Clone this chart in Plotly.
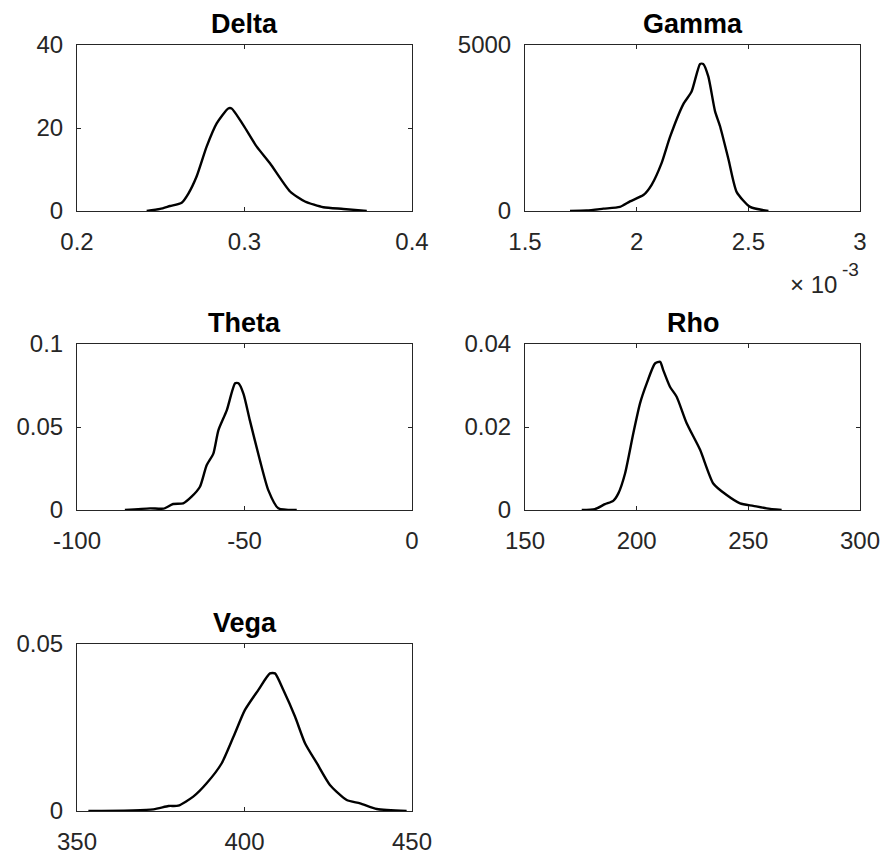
import plotly.graph_objects as go

# ---- data ----
delta_x = [0.2416, 0.2496, 0.2555, 0.2625, 0.2665, 0.2714, 0.2774, 0.2834, 0.2903, 0.2923,
           0.2993, 0.3073, 0.3152, 0.3272, 0.3361, 0.3471, 0.3590, 0.3730]
delta_y = [0.0, 0.5, 1.2, 2.0, 4.2, 8.3, 15.5, 21.1, 24.7, 24.7,
           20.7, 15.5, 11.5, 4.7, 2.3, 0.9, 0.5, 0.0]

gamma_x = [0.0017015, 0.001776, 0.001851, 0.001925, 0.001970, 0.002030, 0.002067, 0.002112,
           0.002149, 0.002209, 0.002246, 0.002284, 0.002298, 0.002321, 0.002351, 0.002373,
           0.002411, 0.002448, 0.002508, 0.002590]
gamma_y = [0, 15, 70, 125, 290, 480, 790, 1450, 2225, 3220, 3600, 4430, 4430, 4045, 3000,
           2560, 1560, 570, 125, 0]

theta_x = [-85.7, -78.2, -74.2, -71.3, -68.3, -65.8, -63.3, -61.3, -59.3, -57.8, -55.3,
           -52.8, -51.8, -50.3, -48.4, -45.4, -42.9, -39.9, -34.4]
theta_y = [0.0, 0.001, 0.0008, 0.0036, 0.004, 0.008, 0.014, 0.027, 0.034, 0.048, 0.060,
           0.0763, 0.0763, 0.070, 0.054, 0.030, 0.012, 0.001, 0.0]

rho_x = [175.4, 181.3, 185.8, 189.5, 191.8, 194.8, 198.5, 201.5, 204.5, 208.2, 210.5, 211.9,
         214.9, 217.9, 222.4, 228.4, 234.3, 240.3, 246.3, 252.2, 258.2, 264.9]
rho_y = [0.0, 0.0002, 0.0014, 0.0022, 0.004, 0.0088, 0.0185, 0.0257, 0.0305, 0.0353, 0.0357,
         0.0337, 0.0297, 0.0273, 0.0209, 0.0145, 0.0064, 0.0036, 0.0016, 0.001, 0.0004, 0.0]

vega_x = [353.4, 372.8, 377.3, 380.2, 384.7, 388.7, 393.2, 396.7, 400.1, 404.1, 407.6, 409.1,
          411.6, 415.1, 418.1, 421.6, 425.5, 430.5, 434.5, 439.5, 448.4]
vega_y = [0.0, 0.0005, 0.0015, 0.0016, 0.0043, 0.0083, 0.0143, 0.0222, 0.0302, 0.0362, 0.0412,
          0.0412, 0.0362, 0.0282, 0.0202, 0.0143, 0.0078, 0.0033, 0.0023, 0.0006, 0.0]

titles = ["Delta", "Gamma", "Theta", "Rho", "Vega"]

x_ranges = [[0.2, 0.4], [0.0015, 0.003], [-100, 0], [150, 300], [350, 450]]
x_tickvals = [[0.2, 0.3, 0.4], [0.0015, 0.002, 0.0025, 0.003], [-100, -50, 0],
              [150, 200, 250, 300], [350, 400, 450]]
x_ticktext = [["0.2", "0.3", "0.4"], ["1.5", "2", "2.5", "3"], ["-100", "-50", "0"],
              ["150", "200", "250", "300"], ["350", "400", "450"]]
y_ranges = [[0, 40], [0, 5000], [0, 0.1], [0, 0.04], [0, 0.05]]
y_tickvals = [[0, 20, 40], [0, 5000], [0, 0.05, 0.1], [0, 0.02, 0.04], [0, 0.05]]
y_ticktext = [["0", "20", "40"], ["0", "5000"], ["0", "0.05", "0.1"],
              ["0", "0.02", "0.04"], ["0", "0.05"]]
gamma_exponent = "-3"

series = [(delta_x, delta_y), (gamma_x, gamma_y), (theta_x, theta_y),
          (rho_x, rho_y), (vega_x, vega_y)]

# ---- layout geometry (pixels of the 881x854 canvas) ----
W, H = 881, 854
cols = [(77, 412), (525, 860)]
rows = [(45, 211), (344, 510), (644, 811)]
positions = [(0, 0), (0, 1), (1, 0), (1, 1), (2, 0)]

FONT = "Liberation Sans, Arial, Helvetica, sans-serif"
AX = "#262626"
FS = 24
FS_TITLE = 27

fig = go.Figure()
layout = dict(width=W, height=H, margin=dict(l=0, r=0, t=0, b=0, autoexpand=False),
              paper_bgcolor="white", plot_bgcolor="white", showlegend=False,
              font=dict(family=FONT, size=FS, color=AX))
annotations = []

for i, ((xs, ys), (r, c)) in enumerate(zip(series, positions)):
    n = "" if i == 0 else str(i + 1)
    x0, x1 = cols[c]
    y0, y1 = rows[r]
    fig.add_trace(go.Scatter(x=xs, y=ys, mode="lines",
                             line=dict(color="black", width=2.4, shape="spline", smoothing=0.6),
                             xaxis="x" + n, yaxis="y" + n, hoverinfo="skip"))
    common = dict(showgrid=False, zeroline=False, showline=True, linecolor=AX, linewidth=1,
                  mirror="ticks", ticks="inside", ticklen=4, tickcolor=AX, tickwidth=1,
                  automargin=False, tickfont=dict(family=FONT, size=FS, color=AX))
    layout["xaxis" + n] = dict(common, domain=[x0 / W, x1 / W], anchor="y" + n,
                               range=x_ranges[i], tickmode="array", ticklabelstandoff=9,
                               tickvals=x_tickvals[i], ticktext=x_ticktext[i])
    layout["yaxis" + n] = dict(common, domain=[1 - y1 / H, 1 - y0 / H], anchor="x" + n,
                               range=y_ranges[i], tickmode="array", ticklabelstandoff=8,
                               tickvals=y_tickvals[i], ticktext=y_ticktext[i])
    annotations.append(dict(text="<b>" + titles[i] + "</b>", xref="paper", yref="paper",
                            x=(x0 + x1) / 2 / W, y=1 - (y0 - 4) / H, xanchor="center",
                            yanchor="bottom", showarrow=False,
                            font=dict(family=FONT, size=FS_TITLE, color="black")))

# x10^-3 multiplier for the Gamma axis
annotations.append(dict(text="× 10", xref="paper", yref="paper",
                        x=839 / W, y=1 - 300 / H, xanchor="right", yanchor="bottom",
                        showarrow=False, font=dict(family=FONT, size=FS, color=AX)))
annotations.append(dict(text=gamma_exponent, xref="paper", yref="paper",
                        x=840 / W, y=1 - 257 / H, xanchor="left", yanchor="top",
                        showarrow=False, font=dict(family=FONT, size=19, color=AX)))
layout["annotations"] = annotations
fig.update_layout(**layout)
fig.write_html("out.html", config={"displayModeBar": False},
               post_script="document.body.style.margin='0px';")
